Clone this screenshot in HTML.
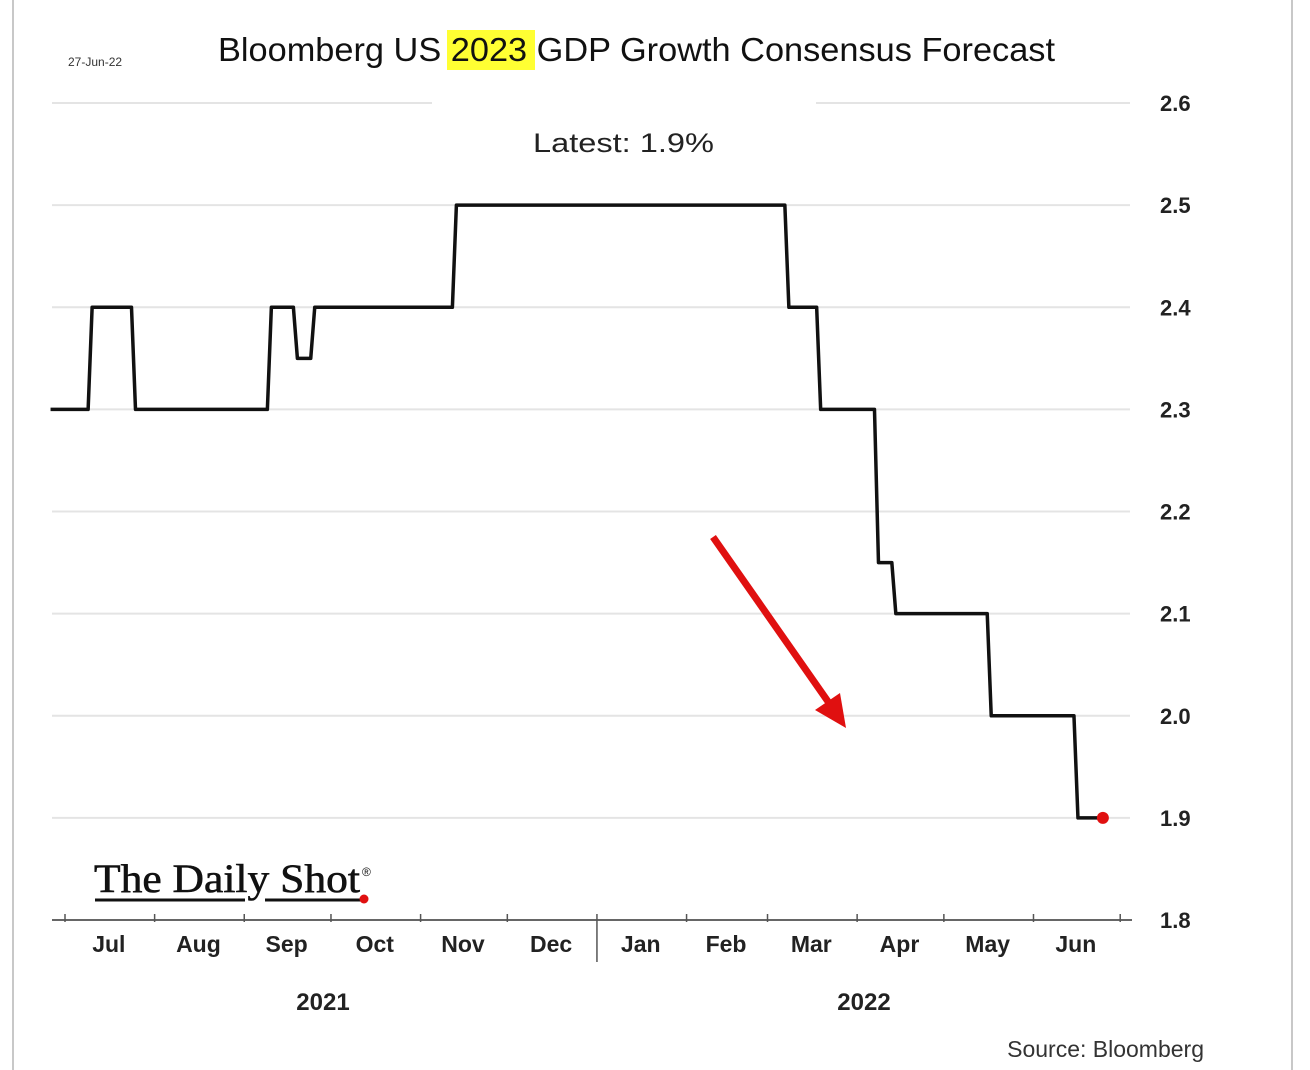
<!DOCTYPE html>
<html><head><meta charset="utf-8"><style>
body{margin:0;background:#fff;}
svg{display:block;font-family:"Liberation Sans",sans-serif;}
</style></head><body>
<svg id="c" width="1310" height="1070">
<line x1="13" y1="0" x2="13" y2="1070" stroke="#c8c8c8" stroke-width="2"/>
<line x1="1292" y1="0" x2="1292" y2="1070" stroke="#c8c8c8" stroke-width="2"/>
<text x="68" y="66" font-size="12" fill="#333">27-Jun-22</text>
<rect x="447" y="30" width="88" height="40" fill="#ffff33"/>
<text x="218" y="61" font-size="33" textLength="837" lengthAdjust="spacingAndGlyphs" fill="#111">Bloomberg US 2023 GDP Growth Consensus Forecast</text>
<text x="533" y="152" font-size="27" textLength="181" lengthAdjust="spacingAndGlyphs" fill="#222">Latest:  1.9%</text>
<g id="grid"></g><g id="axis"></g><g id="series"></g>
<line x1="713" y1="537" x2="836" y2="713" stroke="#e01010" stroke-width="7"/>
<polygon points="846,728 815,710 840,693" fill="#e01010"/>
<g>
<text x="94" y="892" font-family="Liberation Serif,serif" font-size="40" textLength="266" lengthAdjust="spacingAndGlyphs" fill="#111" stroke="#111" stroke-width="0.6">The Daily Shot</text>
<text x="362" y="876" font-size="12" fill="#111">®</text>
<line x1="95" y1="900" x2="245" y2="900" stroke="#111" stroke-width="3"/>
<line x1="265" y1="900" x2="362" y2="900" stroke="#111" stroke-width="3"/>
<circle cx="364" cy="899" r="4.5" fill="#e01010"/>
</g>
<text x="323" y="1010" font-size="24" font-weight="bold" text-anchor="middle" fill="#222">2021</text>
<text x="864" y="1010" font-size="24" font-weight="bold" text-anchor="middle" fill="#222">2022</text>
<text x="1204" y="1057" font-size="23" text-anchor="end" fill="#333">Source: Bloomberg</text>
</svg>
<script>
const yTicks=[1.8,1.9,2.0,2.1,2.2,2.3,2.4,2.5,2.6];
const months=["Jul","Aug","Sep","Oct","Nov","Dec","Jan","Feb","Mar","Apr","May","Jun"];
const stepDates=["2021-06-26","2021-07-09","2021-07-24","2021-09-09","2021-09-18","2021-09-24","2021-11-12","2022-03-07","2022-03-18","2022-04-07","2022-04-13","2022-05-16","2022-06-15"];
const stepValues=[2.3,2.4,2.3,2.4,2.35,2.4,2.5,2.4,2.3,2.15,2.1,2.0,1.9];
const endDate="2022-06-25";
const NS="http://www.w3.org/2000/svg";
const t0=Date.UTC(2021,6,1);
function dayOf(s){const p=s.split("-");return (Date.UTC(+p[0],+p[1]-1,+p[2])-t0)/864e5;}
function X(d){return 65+d*2.891;}
function Y(v){return 920-(v-1.8)*1021.25;}
function mk(tag,attrs,parent){const e=document.createElementNS(NS,tag);for(const k in attrs)e.setAttribute(k,attrs[k]);parent.appendChild(e);return e;}
const grid=document.getElementById("grid"),axis=document.getElementById("axis"),series=document.getElementById("series");
yTicks.forEach(v=>{
  if(v>1.8){
    if(v===2.6){
      const a=mk("line",{x1:52,x2:432,y1:Y(v),y2:Y(v),stroke:"#e4e4e4","stroke-width":2},grid);
      
      
      const b=mk("line",{x1:816,x2:1130,y1:Y(v),y2:Y(v),stroke:"#e4e4e4","stroke-width":2},grid);
      
      
    } else {
      const g=mk("line",{x1:52,x2:1130,y1:Y(v),y2:Y(v),stroke:"#e4e4e4","stroke-width":2},grid);
      
      
    }
  }
  const t=mk("text",{x:1160,y:Y(v)+8,"font-size":22,"font-weight":"bold",fill:"#222"},axis);
  t.textContent=v.toFixed(1);
  
  
});
const ax=mk("line",{x1:52,x2:1132,y1:920,y2:920,stroke:"#666","stroke-width":2},axis);


for(let i=0;i<=12;i++){
  const d=dayOf(new Date(Date.UTC(2021,6+i,1)).toISOString().slice(0,10));
  const x=X(d);
  const tk=mk("line",{x1:x,x2:x,y1:914,y2:i===6?962:922,stroke:"#555","stroke-width":1.5},axis);
  
  
  if(i<12){
    const d2=dayOf(new Date(Date.UTC(2021,7+i,1)).toISOString().slice(0,10));
    const t=mk("text",{x:(x+X(d2))/2-1,y:952,"font-size":23,"font-weight":"bold","text-anchor":"middle",fill:"#222"},axis);
    t.textContent=months[i];
    
    
  }
}
let pts=[];
for(let i=0;i<stepDates.length;i++){
  const d=dayOf(stepDates[i]);
  if(i>0)pts.push([X(d),Y(stepValues[i-1])]);
  pts.push([X(d)+(i>0?4:0),Y(stepValues[i])]);
}
const ed=dayOf(endDate);
pts.push([X(ed),Y(stepValues[stepValues.length-1])]);
const pl=mk("polyline",{points:pts.map(p=>p.join(",")).join(" "),fill:"none",stroke:"#111","stroke-width":3.5,"stroke-linejoin":"round"},series);


const dot=mk("circle",{cx:X(ed),cy:Y(stepValues[stepValues.length-1]),r:6,fill:"#e01010"},series);


</script>
</body></html>
